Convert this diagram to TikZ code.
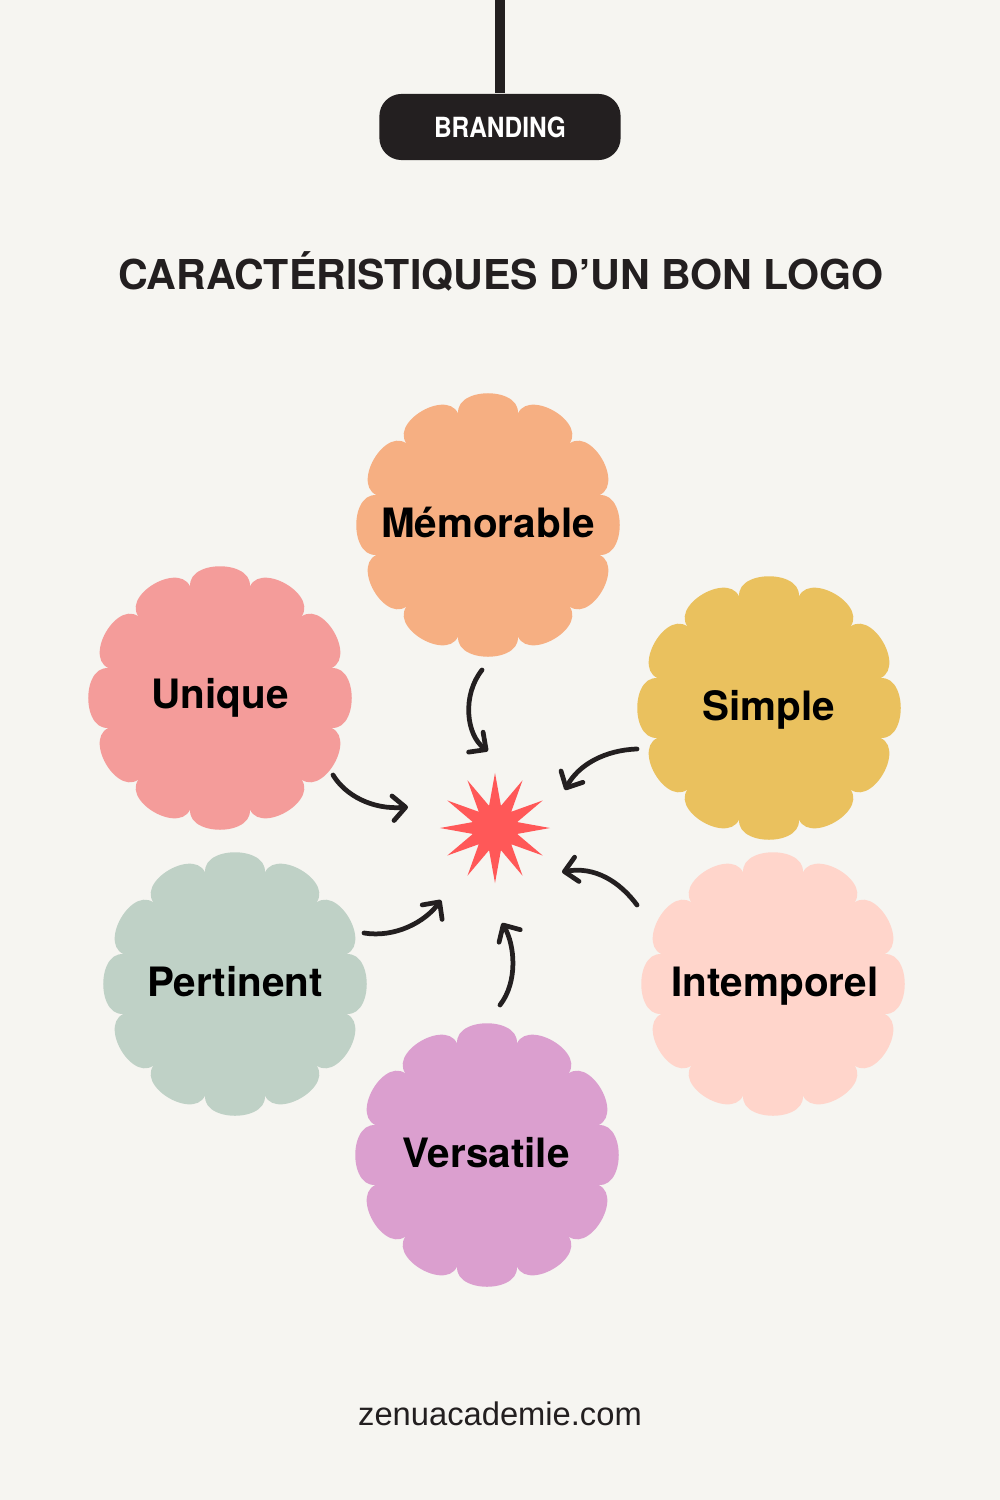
\documentclass[tikz,border=0pt]{standalone}
\usepackage{fontspec}
\setmainfont{TeX Gyre Heros}
\newfontfamily\sitefont{Liberation Sans}
\newfontfamily\badgefont[FakeStretch=0.88]{TeX Gyre Heros}
\usetikzlibrary{shapes.geometric,arrows.meta}

\definecolor{fond}{HTML}{F6F5F1}
\definecolor{encre}{HTML}{231F20}
\definecolor{orange}{HTML}{F6AF82}
\definecolor{rose}{HTML}{F49C9A}
\definecolor{jaune}{HTML}{EAC15E}
\definecolor{sauge}{HTML}{BFD1C6}
\definecolor{peche}{HTML}{FFD5CB}
\definecolor{mauve}{HTML}{DB9FCF}
\definecolor{rouge}{HTML}{FF5858}

\tikzset{
  badge/.style={fill=encre, text=white, rounded corners=6.3pt, minimum width=68.6pt,
    minimum height=18.8pt, inner sep=0pt, font=\badgefont\bfseries\fontsize{7.9}{9}\selectfont},
  tige/.style={draw=encre, line width=2.85pt},
  titre/.style={anchor=base, inner sep=0pt, text=encre, font=\bfseries\fontsize{11.7}{13}\selectfont},
  etiquette/.style={anchor=base, inner sep=0pt, text=black, font=\bfseries\fontsize{11.5}{13}\selectfont},
  etoile/.style={star, star points=12, star point ratio=2.4, minimum size=1.1cm,
    inner sep=0pt, fill=rouge},
  fleche/.style={draw=encre, line width=1.35pt, line cap=round,
    -{Straight Barb[length=3.6pt,width=7pt,round]}},
}

% fleur a 12 petales: #1 centre, #2 couleur
\newcommand{\fleur}[2]{%
  \fill[#2, shift={(#1)}] (-15:109)
    \foreach \a in {0,30,...,330}{ .. controls (\a-17:147) and (\a+17:147) .. (\a+15:109) }
    -- cycle;
}

\begin{document}
\begin{tikzpicture}[x=0.01cm,y=-0.01cm]
\fill[fond] (0,0) rectangle (1000,1500);
\useasboundingbox (0,0) rectangle (1000,1500);

% en-tete
\coordinate (haut) at (500,0);
\node[badge] (brand) at (500,127) {BRANDING};
\draw[tige] (haut) -- (brand.north);
\node[titre] (titre) at (501,289) {CARACTÉRISTIQUES D’UN BON LOGO};

% fleurs
\fleur{488,525}{orange}
\fleur{220,698}{rose}
\fleur{769,708}{jaune}
\fleur{235,984}{sauge}
\fleur{773,984}{peche}
\fleur{487,1155}{mauve}

\node[etiquette] (memo) at (488,537) {Mémorable};
\node[etiquette] (uniq) at (220,708) {Unique};
\node[etiquette] (simp) at (769,720) {Simple};
\node[etiquette] (pert) at (235,996) {Pertinent};
\node[etiquette] (inte) at (775,996) {Intemporel};
\node[etiquette] (vers) at (486,1167) {Versatile};

% centre
\node[etoile] (centre) at (495,828) {};

% fleches
\coordinate (m1) at (482,670);  \coordinate (m2) at (488,751);
\coordinate (s1) at (637,749);  \coordinate (s2) at (565,790);
\coordinate (i1) at (637,905);  \coordinate (i2) at (562,872);
\coordinate (u1) at (333,775);  \coordinate (u2) at (408,807);
\coordinate (p1) at (364,933);  \coordinate (p2) at (441,900);
\coordinate (v1) at (500,1005); \coordinate (v2) at (502,923);

\draw[fleche] (m1) .. controls (462,695) and (466,735) .. (m2);
\draw[fleche] (s1) .. controls (605,750) and (578,765) .. (s2);
\draw[fleche] (i1) .. controls (620,882) and (595,866) .. (i2);
\draw[fleche] (u1) .. controls (345,795) and (372,810) .. (u2);
\draw[fleche] (p1) .. controls (395,938) and (425,922) .. (p2);
\draw[fleche] (v1) .. controls (518,982) and (515,945) .. (v2);

% pied
\node[inner sep=0pt, text=encre, font=\sitefont\fontsize{9.3}{11}\selectfont] (site) at (500,1414) {zenuacademie.com};
\end{tikzpicture}
\end{document}
